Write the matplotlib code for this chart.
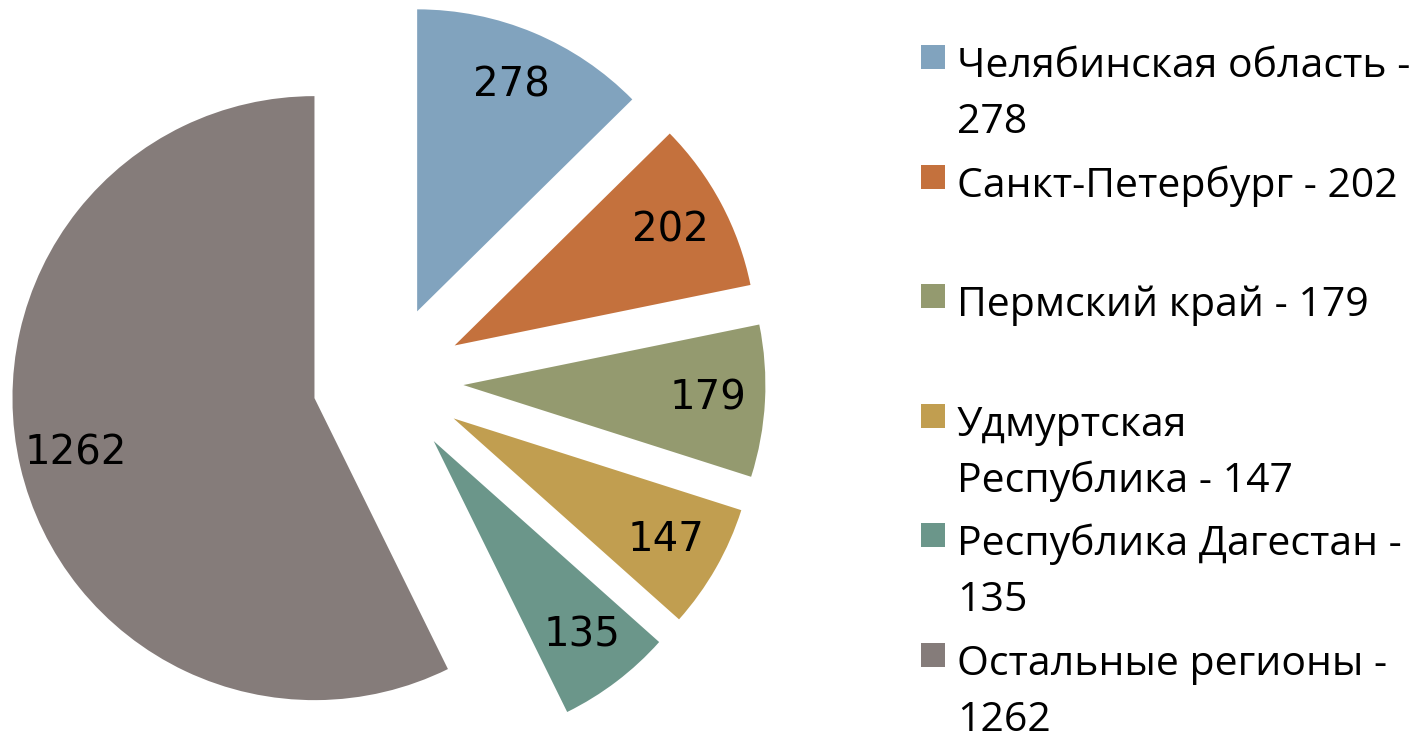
import matplotlib.pyplot as plt
from matplotlib.patches import Rectangle

regions = ['Челябинская область', 'Санкт-Петербург', 'Пермский край',
           'Удмуртская Республика', 'Республика Дагестан', 'Остальные регионы']
counts = [278, 202, 179, 147, 135, 1262]
# how the legend text wraps in the original
legend_text = ['Челябинская область -\n278', 'Санкт-Петербург - 202', 'Пермский край - 179',
               'Удмуртская\nРеспублика - 147', 'Республика Дагестан -\n135', 'Остальные регионы -\n1262']
colors = ['#81A3BE', '#C4713D', '#949A6F', '#C19E50', '#6B968A', '#857C7A']
explode = [0.25] * 6

W, H = 1419, 734
fig = plt.figure(figsize=(W / 100, H / 100), dpi=100)
ax = fig.add_axes([0, 0, 1, 1])

total = sum(counts)
cx, cy, r = 388, H - 381, 302  # pie centre / radius in pixels
ax.pie(counts, explode=explode, colors=colors, startangle=90, counterclock=False,
       autopct=lambda p: f'{p * total / 100:.0f}', pctdistance=0.81,
       textprops=dict(fontsize=29, family='DejaVu Sans', color='black'),
       wedgeprops=dict(linewidth=0))
ax.set_xlim(-cx / r, (W - cx) / r)
ax.set_ylim(-cy / r, (H - cy) / r)
ax.set_aspect('auto')
ax.axis('off')

# legend drawn by hand: square aligned to the first text line
for i, (txt, col) in enumerate(zip(legend_text, colors)):
    top = 45 + i * 119.6
    fig.patches.append(Rectangle((921 / W, 1 - (top + 24) / H), 24 / W, 24 / H,
                                 transform=fig.transFigure, facecolor=col, edgecolor='none'))
    for j, line in enumerate(txt.split('\n')):
        fig.text(957 / W, 1 - (top + 32 + j * 56) / H, line, fontsize=29.5,
                 family='Open Sans', va='baseline', ha='left')

fig.savefig('out.png', dpi=100)
